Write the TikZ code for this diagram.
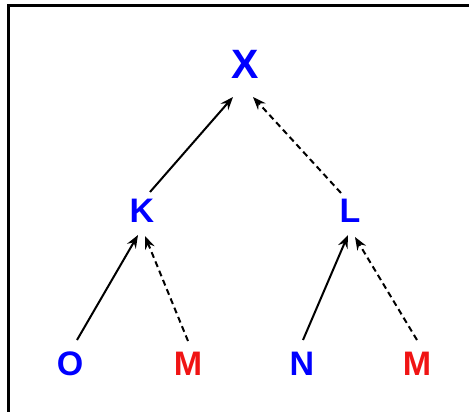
\documentclass[tikz,border=0pt]{standalone}
\usepackage{fontspec}
\setmainfont{Liberation Sans}
\usetikzlibrary{arrows.meta}
\definecolor{nodeblue}{RGB}{0,0,255}
\definecolor{nodered}{RGB}{240,20,20}
\begin{document}
\begin{tikzpicture}[x=1pt,y=-1pt,
  lbl/.style={font=\fontsize{34}{34}\selectfont\bfseries, inner sep=0pt, text=nodeblue},
  redlbl/.style={lbl, text=nodered},
  rootlbl/.style={lbl, font=\fontsize{41}{41}\selectfont\bfseries},
  arr/.style={-{Stealth[length=13pt,width=10pt,inset=4.5pt]}, line width=2pt, black},
  darr/.style={arr, dash pattern=on 6pt off 4pt},
  frame/.style={line width=3pt, black}]
  \useasboundingbox (0,0) rectangle (469,412);
  % frame: left and top edges
  \draw[frame] (8.5,412) -- (8.5,6) -- (469,6);

  % labels
  \node[rootlbl] (X) at (245,64) {X};
  \node[lbl] (K) at (142,211) {K};
  \node[lbl] (L) at (350,211) {L};
  \node[lbl] (O) at (70,364) {O};
  \node[redlbl] (M1) at (188,364) {M};
  \node[lbl] (N) at (302,364) {N};
  \node[redlbl] (M2) at (417,364) {M};

  % connectors from children to parents
  \draw[arr]  ([shift={(8pt,19pt)}]K.center) -- ([shift={(-12pt,-33pt)}]X.center);
  \draw[darr] ([shift={(-9pt,18pt)}]L.center) -- ([shift={(8pt,-33pt)}]X.center);
  \draw[arr]  ([shift={(7pt,24pt)}]O.center) -- ([shift={(-4pt,-24pt)}]K.center);
  \draw[darr] ([shift={(0pt,23pt)}]M1.center) -- ([shift={(3pt,-25pt)}]K.center);
  \draw[arr]  ([shift={(1pt,24pt)}]N.center) -- ([shift={(-2pt,-24pt)}]L.center);
  \draw[darr] ([shift={(0pt,24pt)}]M2.center) -- ([shift={(5pt,-26pt)}]L.center);
\end{tikzpicture}
\end{document}
